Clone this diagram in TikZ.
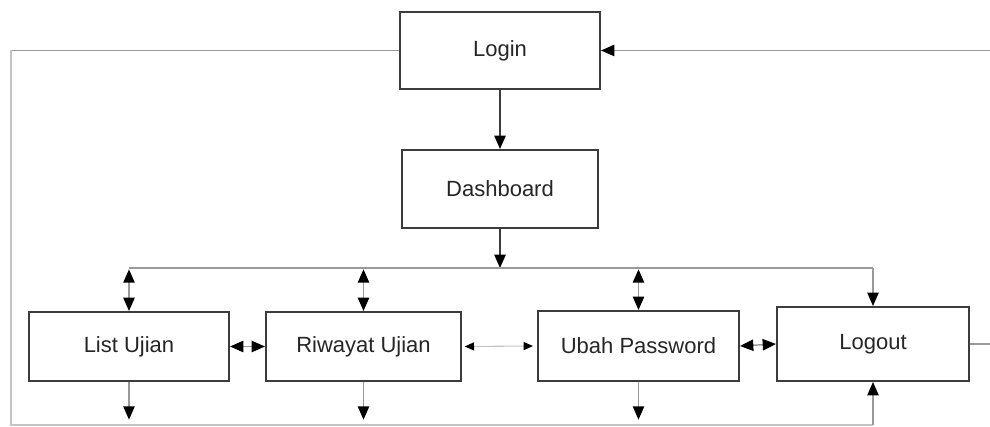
\documentclass[tikz,border=0pt]{standalone}
\usepackage{fontspec}
\setmainfont{Liberation Sans}
\usetikzlibrary{arrows.meta}
\definecolor{boxline}{HTML}{3C3C3C}
\definecolor{wire}{HTML}{9A9A9A}
\definecolor{wirelight}{HTML}{C4C4C4}
\tikzset{
  menubox/.style={draw=boxline, line width=1.5pt, fill=white, inner sep=0pt,
    font=\fontsize{16.5}{19}\selectfont, text=black!85},
  link/.style={draw=wire, line width=1.1pt},
  dlink/.style={draw=boxline, line width=1.1pt},
  tipend/.style={-{Triangle[length=10pt, width=8.5pt, color=black]}},
  both/.style={link, {Triangle[length=10pt, width=8.5pt, color=black]}-{Triangle[length=10pt, width=8.5pt, color=black]}},
}
\begin{document}
\begin{tikzpicture}[x=0.75pt, y=-0.75pt]
\useasboundingbox (0,0) rectangle (990,427);

% menu boxes
\node[menubox, minimum width=150pt, minimum height=57.75pt] (login) at (500,50.5) {Login};
\node[menubox, minimum width=147pt, minimum height=58.5pt] (dash) at (500,189) {Dashboard};
\node[menubox, minimum width=150pt, minimum height=51.75pt] (list) at (129,346.5) {List Ujian};
\node[menubox, minimum width=146.25pt, minimum height=51.75pt] (riw) at (363.5,346.5) {Riwayat Ujian};
\node[menubox, minimum width=150.75pt, minimum height=52.5pt] (ubah) at (638.5,346) {Ubah Password};
\node[menubox, minimum width=144pt, minimum height=55.5pt] (logout) at (873,344) {Logout};

% routing points
\coordinate (busL) at (129,268);
\coordinate (busR) at (873,268);
\coordinate (tl) at (11,50.5);
\coordinate (bl) at (11,425);
\coordinate (tr) at (993,50.5);
\coordinate (br) at (993,344);

% login to dashboard, dashboard to menu bus
\draw[dlink, tipend] (login.south) -- (dash.north);
\draw[dlink, tipend] (dash.south) -- (dash.south |- busL);
\draw[link] (busL) -- (busR);

% bus to each menu
\draw[both, shorten <=1pt] (busL) -- (list.north);
\draw[both, shorten <=1pt] (riw.north |- busL) -- (riw.north);
\draw[both, shorten <=1pt] (ubah.north |- busL) -- (ubah.north);
\draw[link, tipend] (busR) -- (logout.north);

% links between neighbouring menus
\draw[both] (list.east) -- (riw.west);
\draw[draw=wirelight, line width=0.8pt, {Triangle[length=7pt, width=6pt, color=black]}-{Triangle[length=7pt, width=6pt, color=black]}, shorten <=2pt, shorten >=3pt] (riw.east) -- (ubah.west);
\draw[both] (ubah.east) -- (logout.west);

% menus down to the return line
\draw[link, tipend, shorten >=4pt] (list.south) -- (list.south |- bl);
\draw[link, tipend, shorten >=4pt] (riw.south) -- (riw.south |- bl);
\draw[link, tipend, shorten >=4pt] (ubah.south) -- (ubah.south |- bl);

% return path from login round the left side to logout
\draw[link] (login.west) -- (tl);
\draw[draw=wirelight, line width=1.1pt] (tl) -- (bl) -- (logout.south |- bl);
\draw[link, tipend] (logout.south |- bl) -- (logout.south);

% logout back to login along the right edge
\draw[link, tipend] (logout.east) -- (br) -- (tr) -- (login.east);
\end{tikzpicture}
\end{document}
